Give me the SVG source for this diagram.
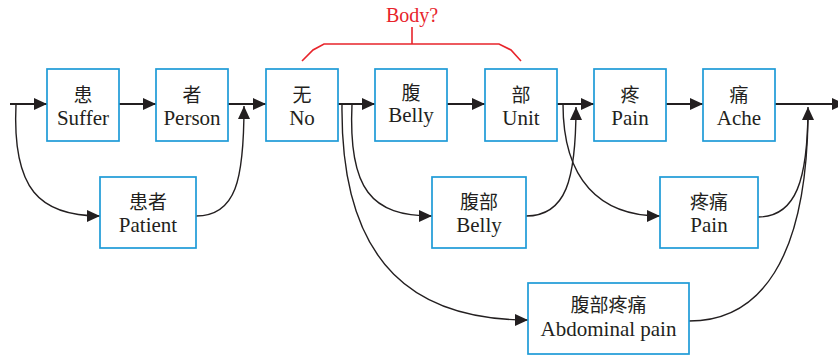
<svg xmlns="http://www.w3.org/2000/svg" width="838" height="356" viewBox="0 0 838 356">
  <style>
    .box { fill: #ffffff; stroke: #1e9bd7; stroke-width: 1.7; }
    .zh { font-family: "Noto Sans CJK SC", "Noto Sans CJK TC", sans-serif; font-size: 19px; fill: #231f20; text-anchor: middle; }
    .en { font-family: "Liberation Serif", "Times New Roman", serif; font-size: 21px; fill: #231f20; text-anchor: middle; }
    .main { fill: none; stroke: #231f20; stroke-width: 2; }
    .curve { fill: none; stroke: #231f20; stroke-width: 1.4; }
    .brace { fill: none; stroke: #e8242b; stroke-width: 1.6; }
    .red { font-family: "Liberation Serif", "Times New Roman", serif; font-size: 20px; fill: #e8242b; text-anchor: middle; }
  </style>
  <defs>
    <marker id="arrow" markerUnits="userSpaceOnUse" markerWidth="14" markerHeight="12" refX="13" refY="6" orient="auto">
      <path d="M0,0 L13,6 L0,12 z" fill="#231f20"/>
    </marker>
  </defs>
  <rect width="838" height="356" fill="#ffffff"/>

  <!-- bracket over 无 / 腹 / 部 -->
  <g id="body-brace">
    <polyline class="brace" points="302,61 313,50 324,44 499,44 511,50 521,61"/>
    <line class="brace" x1="412" y1="27" x2="412" y2="44"/>
    <text class="red" x="412" y="22">Body?</text>
  </g>

  <!-- connectors -->
  <g id="connectors">
    <path class="main" d="M10,104 H47" marker-end="url(#arrow)"/>
    <path class="main" d="M119,104 H156" marker-end="url(#arrow)"/>
    <path class="main" d="M228,104 H266" marker-end="url(#arrow)"/>
    <path class="main" d="M338,104 H375" marker-end="url(#arrow)"/>
    <path class="main" d="M447,104 H485" marker-end="url(#arrow)"/>
    <path class="main" d="M557,104 H594" marker-end="url(#arrow)"/>
    <path class="main" d="M666,104 H703" marker-end="url(#arrow)"/>
    <path class="main" d="M775,104 H845" marker-end="url(#arrow)"/>

    <path class="curve" d="M16,104 C12,190 40,216 100,216" marker-end="url(#arrow)"/>
    <path class="curve" d="M196,216 C236,216 244,180 244,106" marker-end="url(#arrow)"/>
    <path class="curve" d="M352,104 C348,190 372,216 432,216" marker-end="url(#arrow)"/>
    <path class="curve" d="M342,104 C340,270 420,320 528,320" marker-end="url(#arrow)"/>
    <path class="curve" d="M526,216 C566,216 576,180 576,107" marker-end="url(#arrow)"/>
    <path class="curve" d="M563,104 C563,180 600,216 660,216" marker-end="url(#arrow)"/>
    <path class="curve" d="M758,217 C796,217 808,180 808,107" marker-end="url(#arrow)"/>
    <path class="curve" d="M689,321 C760,321 806,260 808,118"/>
  </g>

  <!-- top row -->
  <g id="n-suffer">
    <rect class="box" x="47" y="69" width="72" height="72"/>
    <text class="zh" x="83" y="102">患</text>
    <text class="en" x="83" y="125">Suffer</text>
  </g>
  <g id="n-person">
    <rect class="box" x="156" y="69" width="72" height="72"/>
    <text class="zh" x="192" y="102">者</text>
    <text class="en" x="192" y="125">Person</text>
  </g>
  <g id="n-no">
    <rect class="box" x="266" y="69" width="72" height="72"/>
    <text class="zh" x="302" y="102">无</text>
    <text class="en" x="302" y="125">No</text>
  </g>
  <g id="n-belly">
    <rect class="box" x="375" y="69" width="72" height="72"/>
    <text class="zh" x="411" y="100">腹</text>
    <text class="en" x="411" y="122">Belly</text>
  </g>
  <g id="n-unit">
    <rect class="box" x="485" y="69" width="72" height="72"/>
    <text class="zh" x="521" y="102">部</text>
    <text class="en" x="521" y="125">Unit</text>
  </g>
  <g id="n-pain">
    <rect class="box" x="594" y="69" width="72" height="72"/>
    <text class="zh" x="630" y="102">疼</text>
    <text class="en" x="630" y="125">Pain</text>
  </g>
  <g id="n-ache">
    <rect class="box" x="703" y="69" width="72" height="72"/>
    <text class="zh" x="739" y="102">痛</text>
    <text class="en" x="739" y="125">Ache</text>
  </g>

  <!-- second row -->
  <g id="n-patient">
    <rect class="box" x="100" y="177" width="96" height="71"/>
    <text class="zh" x="148" y="209">患者</text>
    <text class="en" x="148" y="232">Patient</text>
  </g>
  <g id="n-belly2">
    <rect class="box" x="432" y="177" width="94" height="71"/>
    <text class="zh" x="479" y="209">腹部</text>
    <text class="en" x="479" y="232">Belly</text>
  </g>
  <g id="n-pain2">
    <rect class="box" x="660" y="177" width="98" height="71"/>
    <text class="zh" x="709" y="209">疼痛</text>
    <text class="en" x="709" y="232">Pain</text>
  </g>

  <!-- third row -->
  <g id="n-abdominal">
    <rect class="box" x="528" y="283" width="161" height="71"/>
    <text class="zh" x="608.5" y="312">腹部疼痛</text>
    <text class="en" x="608.5" y="336">Abdominal pain</text>
  </g>
</svg>
